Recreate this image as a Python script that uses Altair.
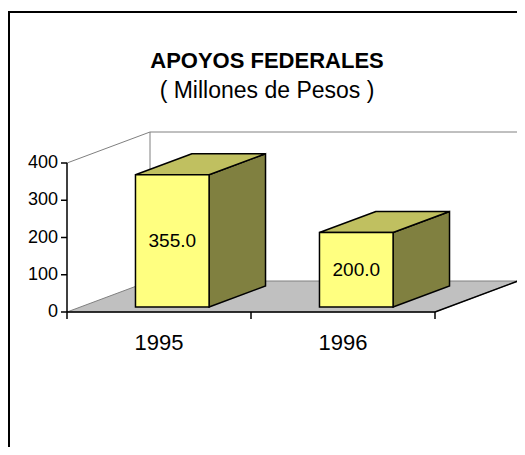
import altair as alt
import pandas as pd

# ---- data ----
years = ["1995", "1996"]
values = [355.0, 200.0]
label_texts = ["355.0", "200.0"]
y_ticks = [0, 100, 200, 300, 400]
title_text = "APOYOS FEDERALES"
subtitle_text = "( Millones de Pesos )"

# ---- layout constants ----
W, H = 509, 439
X0, Y0 = 59.0, 304.0      # view px of the front-plane origin
PXU = 184.0               # px per category band
PXV = 0.3725              # px per value unit
DX = 83 / PXU             # depth shift (category units)
DY = 31 / PXV             # depth shift (value units)
D0, D1 = 0.16, 0.84       # bar depth start/end (fraction of full depth)
BW = 0.40                 # bar width (fraction of band)
YMAX = max(y_ticks)
NCAT = len(years)
FONT = "Liberation Sans"

xs = alt.Scale(domain=[-X0 / PXU, (W - X0) / PXU], nice=False, zero=False)
ys = alt.Scale(domain=[-(H - Y0) / PXV, Y0 / PXV], nice=False, zero=False)


def X(f="x"):
    return alt.X(f + ":Q", scale=xs, axis=None)


def Y(f="y"):
    return alt.Y(f + ":Q", scale=ys, axis=None)


# ---- floor ----
floor_df = pd.DataFrame([
    {"y": 0.0, "x": 0.0, "x2": float(NCAT)},
    {"y": DY, "x": DX, "x2": NCAT + DX},
])
floor = alt.Chart(floor_df).mark_area(
    orient="horizontal", fill="#C0C0C0", stroke="#808080", strokeWidth=1, opacity=1
).encode(y=Y(), x=X(), x2="x2:Q")

# ---- back walls (grey lines) ----
wall_df = pd.DataFrame([
    {"x": 0.0, "y": YMAX, "x2": DX, "y2": YMAX + DY},
    {"x": DX, "y": YMAX + DY, "x2": NCAT + DX, "y2": YMAX + DY},
    {"x": DX, "y": DY, "x2": DX, "y2": YMAX + DY},
    {"x": NCAT + DX, "y": DY, "x2": NCAT + DX, "y2": YMAX + DY},
])
walls = alt.Chart(wall_df).mark_rule(color="#808080", strokeWidth=1).encode(
    x=X(), y=Y(), x2="x2:Q", y2="y2:Q"
)

# ---- black axis lines ----
axis_df = pd.DataFrame([
    {"x": 0.0, "y": 0.0, "x2": float(NCAT), "y2": 0.0},
    {"x": float(NCAT), "y": 0.0, "x2": NCAT + DX, "y2": DY},
    {"x": 0.0, "y": 0.0, "x2": 0.0, "y2": float(YMAX)},
])
ytick_df = pd.DataFrame({"y": y_ticks, "x": 0.0, "x2": -6 / PXU})
xtick_df = pd.DataFrame({"x": [float(i) for i in range(NCAT + 1)], "y": 0.0, "y2": -7 / PXV})
axes = alt.Chart(axis_df).mark_rule(color="black", strokeWidth=1.5).encode(
    x=X(), y=Y(), x2="x2:Q", y2="y2:Q"
)
yticks = alt.Chart(ytick_df).mark_rule(color="black", strokeWidth=1.5).encode(
    x=X(), x2="x2:Q", y=Y(), y2="y:Q"
)
xticks = alt.Chart(xtick_df).mark_rule(color="black", strokeWidth=1.5).encode(
    x=X(), x2="x:Q", y=Y(), y2="y2:Q"
)
ylabels = alt.Chart(pd.DataFrame({"y": y_ticks, "x": 0.0, "t": [str(v) for v in y_ticks]})).mark_text(
    align="right", baseline="middle", dx=-9, font=FONT, fontSize=18, color="black"
).encode(x=X(), y=Y(), text="t:N")
xlabels = alt.Chart(pd.DataFrame({"x": [i + 0.5 for i in range(NCAT)], "y": 0.0, "t": years})).mark_text(
    align="center", baseline="middle", dy=31, font=FONT, fontSize=22, color="black"
).encode(x=X(), y=Y(), text="t:N")

# ---- bars ----
front_rows, side_rows, top_rows, lab_rows = [], [], [], []
for i, (yr, v, lt) in enumerate(zip(years, values, label_texts)):
    xl = i + 0.5 - BW / 2
    xr = i + 0.5 + BW / 2
    front_rows.append({"year": yr, "x": xl + D0 * DX, "x2": xr + D0 * DX, "y": D0 * DY, "y2": v + D0 * DY})
    side_rows.append({"year": yr, "x": xr + D0 * DX, "y": D0 * DY, "y2": v + D0 * DY})
    side_rows.append({"year": yr, "x": xr + D1 * DX, "y": D1 * DY, "y2": v + D1 * DY})
    top_rows.append({"year": yr, "y": v + D0 * DY, "x": xl + D0 * DX, "x2": xr + D0 * DX})
    top_rows.append({"year": yr, "y": v + D1 * DY, "x": xl + D1 * DX, "x2": xr + D1 * DX})
    lab_rows.append({"year": yr, "x": i + 0.5 + D0 * DX, "y": v / 2 + D0 * DY, "t": lt})

front = alt.Chart(pd.DataFrame(front_rows)).mark_rect(
    fill="#FFFF80", stroke="black", strokeWidth=1.5, opacity=1
).encode(x=X(), x2="x2:Q", y=Y(), y2="y2:Q")
side = alt.Chart(pd.DataFrame(side_rows)).mark_area(
    orient="vertical", fill="#808040", stroke="black", strokeWidth=1.5, opacity=1
).encode(x=X(), y=Y(), y2="y2:Q", detail="year:N")
top = alt.Chart(pd.DataFrame(top_rows)).mark_area(
    orient="horizontal", fill="#C0C060", stroke="black", strokeWidth=1.5, opacity=1
).encode(y=Y(), x=X(), x2="x2:Q", detail="year:N")
labels = alt.Chart(pd.DataFrame(lab_rows)).mark_text(
    align="center", baseline="middle", font=FONT, fontSize=19, color="black"
).encode(x=X(), y=Y(), text="t:N")

# ---- titles and frame ----
ttl = alt.Chart(pd.DataFrame({"t": [title_text]})).mark_text(
    align="center", baseline="middle", font=FONT, fontSize=22, fontWeight="bold", color="black"
).encode(x=alt.value(259), y=alt.value(53), text="t:N")
sub = alt.Chart(pd.DataFrame({"t": [subtitle_text]})).mark_text(
    align="center", baseline="middle", font=FONT, fontSize=23, color="black"
).encode(x=alt.value(259), y=alt.value(83), text="t:N")
frame_top = alt.Chart(pd.DataFrame({"a": [0]})).mark_rule(color="black", strokeWidth=2).encode(
    x=alt.value(0), x2=alt.value(W), y=alt.value(4)
)
frame_left = alt.Chart(pd.DataFrame({"a": [0]})).mark_rule(color="black", strokeWidth=2).encode(
    x=alt.value(1), y=alt.value(3), y2=alt.value(H)
)

chart = alt.layer(
    floor, walls, axes, yticks, xticks, ylabels, xlabels,
    side, top, front, labels, ttl, sub, frame_top, frame_left
).properties(
    width=W, height=H, padding=0,
    autosize=alt.AutoSizeParams(type="none"),
    background="white",
).configure_view(stroke=None)

chart.save("out.html", embed_options={"renderer": "svg", "actions": False})
